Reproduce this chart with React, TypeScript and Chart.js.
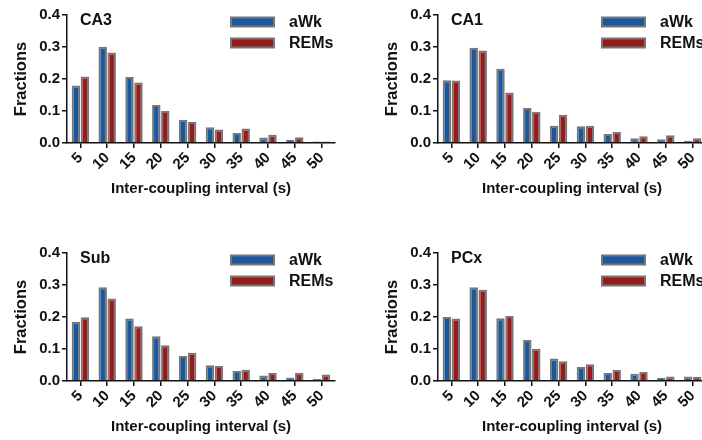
import React, { useEffect, useRef } from "react";
import { Chart, registerables } from "chart.js";

Chart.register(...registerables);

const categories = ["5", "10", "15", "20", "25", "30", "35", "40", "45", "50"];
const yTicks = [0, 0.1, 0.2, 0.3, 0.4];
const seriesNames = ["aWk", "REMs"];

const ca3Awk = [0.18, 0.301, 0.206, 0.119, 0.073, 0.049, 0.031, 0.017, 0.01, 0.005];
const ca3Rems = [0.208, 0.283, 0.189, 0.1, 0.066, 0.042, 0.045, 0.026, 0.018, 0.005];

const ca1Awk = [0.196, 0.298, 0.232, 0.109, 0.054, 0.052, 0.028, 0.015, 0.012, 0.007];
const ca1Rems = [0.195, 0.289, 0.158, 0.098, 0.088, 0.054, 0.035, 0.021, 0.024, 0.015];

const subAwk = [0.185, 0.293, 0.195, 0.14, 0.078, 0.049, 0.031, 0.017, 0.011, 0.006];
const subRems = [0.199, 0.258, 0.171, 0.112, 0.088, 0.047, 0.035, 0.025, 0.026, 0.02];

const pcxAwk = [0.2, 0.293, 0.196, 0.128, 0.07, 0.044, 0.025, 0.023, 0.01, 0.014];
const pcxRems = [0.195, 0.285, 0.203, 0.101, 0.062, 0.052, 0.034, 0.028, 0.014, 0.013];

const BLUE = "rgb(26, 88, 158)";
const RED = "rgb(152, 26, 26)";
const EDGE = "#767676";
const FONT = "'Liberation Sans', Arial, sans-serif";

const W = 371;
const H = 238;

const panelDeco = {
  id: "panelDeco",
  afterDraw(chart: any, _args: any, opts: any) {
    const ctx = chart.ctx;
    const area = chart.chartArea;
    ctx.save();
    ctx.fillStyle = "#111";
    ctx.font = `bold 16px ${FONT}`;
    ctx.textAlign = "left";
    ctx.textBaseline = "middle";
    ctx.fillText(opts.title, area.left + 13, area.top + 6);
    const sx = area.left + 164;
    chart.data.datasets.forEach((ds: any, i: number) => {
      const cy = area.top + 7 + i * 21;
      ctx.fillStyle = ds.backgroundColor;
      ctx.fillRect(sx, cy - 4.5, 43, 9);
      ctx.strokeStyle = EDGE;
      ctx.lineWidth = 2;
      ctx.strokeRect(sx, cy - 4.5, 43, 9);
      ctx.fillStyle = "#111";
      ctx.font = `bold 16px ${FONT}`;
      ctx.fillText(ds.label, sx + 58, cy + 1);
    });
    ctx.restore();
  },
};

function Panel({ title, awk, rems, left, top }: { title: string; awk: number[]; rems: number[]; left: number; top: number }) {
  const ref = useRef<HTMLCanvasElement>(null);
  useEffect(() => {
    if (!ref.current) return;
    const chart = new Chart(ref.current, {
      type: "bar",
      data: {
        labels: categories,
        datasets: [
          { label: seriesNames[0], data: awk, backgroundColor: BLUE, borderColor: EDGE, borderWidth: 2 },
          { label: seriesNames[1], data: rems, backgroundColor: RED, borderColor: EDGE, borderWidth: 2 },
        ],
      },
      options: {
        responsive: false,
        animation: false,
        devicePixelRatio: 1,
        categoryPercentage: 0.67,
        barPercentage: 0.94,
        layout: { padding: { left: 8, right: W - 335, top: 15, bottom: 36 } },
        plugins: {
          legend: { display: false },
          tooltip: { enabled: false },
          panelDeco: { title },
        } as any,
        scales: {
          x: {
            offset: true,
            grid: { offset: false, drawOnChartArea: false, drawTicks: true, tickLength: 5, color: "#111", lineWidth: 1.5 },
            border: { display: true, color: "#111", width: 1.5 },
            ticks: {
              autoSkip: false,
              minRotation: 45,
              maxRotation: 45,
              color: "#111",
              padding: 1,
              font: { family: FONT, size: 15, weight: "bold" },
            },
            title: {
              display: true,
              text: "Inter-coupling interval (s)",
              color: "#111",
              padding: { top: 4, bottom: 4 },
              font: { family: FONT, size: 15, weight: "bold" },
            },
            afterFit: (s: any) => {
              s.height = 59;
            },
          },
          y: {
            min: 0,
            max: 0.4,
            afterBuildTicks: (s: any) => {
              s.ticks = yTicks.map((v) => ({ value: v }));
            },
            grid: { drawOnChartArea: false, drawTicks: true, tickLength: 5, color: "#111", lineWidth: 1.5 },
            border: { display: true, color: "#111", width: 1.5 },
            ticks: {
              color: "#111",
              padding: 2,
              font: { family: FONT, size: 15, weight: "bold" },
              callback: (v: any) => Number(v).toFixed(1),
            },
            title: {
              display: true,
              text: "Fractions",
              color: "#111",
              padding: { top: 4, bottom: 4 },
              font: { family: FONT, size: 16.5, weight: "bold" },
            },
            afterFit: (s: any) => {
              s.width = 59;
            },
          },
        },
      },
      plugins: [panelDeco],
    });
    return () => chart.destroy();
  }, []);
  return (
    <div style={{ position: "absolute", left, top, width: W, height: H }}>
      <canvas ref={ref} width={W} height={H} style={{ width: W, height: H, display: "block" }} />
    </div>
  );
}

export default function App() {
  return (
    <div style={{ position: "fixed", left: 0, top: 0, width: 702, height: 440, overflow: "hidden", background: "#fff" }}>
      <Panel title="CA3" awk={ca3Awk} rems={ca3Rems} left={0} top={0} />
      <Panel title="CA1" awk={ca1Awk} rems={ca1Rems} left={371} top={0} />
      <Panel title="Sub" awk={subAwk} rems={subRems} left={0} top={238} />
      <Panel title="PCx" awk={pcxAwk} rems={pcxRems} left={371} top={238} />
    </div>
  );
}
